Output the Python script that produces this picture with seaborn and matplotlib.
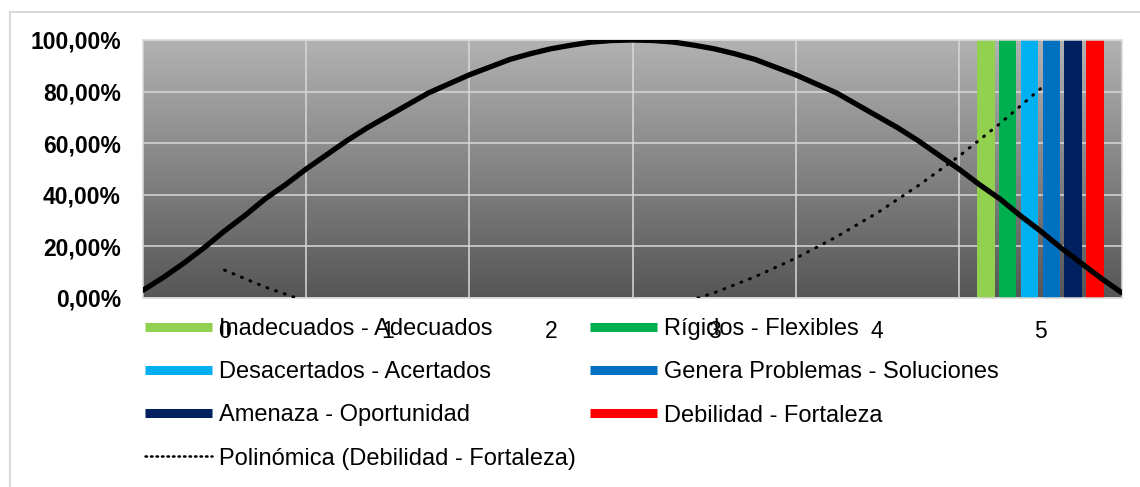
import numpy as np
import pandas as pd
import matplotlib
matplotlib.use("Agg")
import matplotlib.pyplot as plt
from matplotlib.lines import Line2D
from matplotlib.ticker import FixedLocator, FuncFormatter
from matplotlib.colors import LinearSegmentedColormap
import seaborn as sns

# ---------------- data ----------------
categories = ["0", "1", "2", "3", "4", "5"]
series = ["Inadecuados - Adecuados", "Rígidos - Flexibles", "Desacertados - Acertados",
          "Genera Problemas - Soluciones", "Amenaza - Oportunidad", "Debilidad - Fortaleza"]
series_colors = ["#92D050", "#00B050", "#00B0F0", "#0070C0", "#002060", "#FF0000"]
# each series: values per category (percent)
inadecuados = [0, 0, 0, 0, 0, 100]
rigidos = [0, 0, 0, 0, 0, 100]
desacertados = [0, 0, 0, 0, 0, 100]
genera = [0, 0, 0, 0, 0, 100]
amenaza = [0, 0, 0, 0, 0, 100]
debilidad = [0, 0, 0, 0, 0, 100]

# black arch curve
curve_x = [-0.5, -0.375, -0.25, -0.125, 0, 0.125, 0.25, 0.375, 0.5, 0.625, 0.75, 0.875,
           1, 1.125, 1.25, 1.375, 1.5, 1.625, 1.75, 1.875, 2, 2.125, 2.25, 2.375, 2.5,
           2.625, 2.75, 2.875, 3, 3.125, 3.25, 3.375, 3.5, 3.625, 3.75, 3.875,
           4, 4.125, 4.25, 4.375, 4.5, 4.625, 4.75, 4.875, 5, 5.125, 5.25, 5.375, 5.5]
curve_y = [3, 8, 13.5, 19.5, 26, 32, 38.5, 44, 50, 55.5, 61, 66,
           70.5, 75, 79.5, 83, 86.5, 89.5, 92.5, 94.7, 96.6, 98, 99.2, 99.8, 100,
           99.8, 99.2, 98, 96.6, 94.7, 92.5, 89.5, 86.5, 83, 79.5, 75,
           70.5, 66, 61, 55.5, 50, 44, 38.5, 32, 26, 19.5, 13.5, 7.5, 2]

# polynomial trendline of "Debilidad - Fortaleza"
trend_x = [0, 0.25, 0.5, 0.75, 1, 1.25, 1.5, 1.75, 2, 2.25, 2.5, 2.75, 3,
           3.25, 3.5, 3.75, 4, 4.25, 4.5, 4.75, 5]
trend_y = [10.8, 4.2, -1.3, -5.7, -9.1, -11.4, -12.7, -12.9, -12.0, -10.1, -7.1, -3.1, 2.0,
           8.2, 15.4, 23.7, 33.0, 43.5, 54.9, 67.5, 81.1]
trend_label = "Polinómica (Debilidad - Fortaleza)"

yticks = [0, 20, 40, 60, 80, 100]

# ---------------- figure ----------------
sns.set_theme(style="white")
plt.rcParams["font.family"] = ["Liberation Sans", "DejaVu Sans"]

W, H = 1140, 487
fig = plt.figure(figsize=(W / 100, H / 100), dpi=100)
L, R, T, B = 143, 1122, 40, 298
ax = fig.add_axes([L / W, 1 - B / H, (R - L) / W, (B - T) / H])

values = [inadecuados, rigidos, desacertados, genera, amenaza, debilidad]
df = pd.DataFrame([(c, s, v) for s, vals in zip(series, values) for c, v in zip(categories, vals)],
                  columns=["cat", "serie", "valor"])

# gradient background
grad = np.linspace(0, 1, 256).reshape(-1, 1)
cmap = LinearSegmentedColormap.from_list("g", ["#565656", "#b2b2b2"])
ax.imshow(grad, cmap=cmap, origin="lower", aspect="auto",
          extent=[-0.5, 5.5, 0, 100], zorder=0)

sns.barplot(data=df, x="cat", y="valor", hue="serie", order=categories, hue_order=series,
            palette=series_colors, width=0.8, gap=0.2, linewidth=0, saturation=1,
            legend=False, ax=ax, zorder=2)

ax.plot(curve_x, curve_y, color="black", lw=3.8, solid_capstyle="round",
        solid_joinstyle="round", zorder=4)
ax.plot(trend_x, trend_y, color="black", lw=2.2, linestyle=(0, (0.3, 2.7)),
        dash_capstyle="round", zorder=5)

ax.set_xlim(-0.5, 5.5)
ax.set_ylim(0, 100)
ax.set_yticks(yticks)
ax.yaxis.set_major_formatter(FuncFormatter(lambda v, p: f"{v:.2f}".replace(".", ",") + "%"))
ax.xaxis.set_minor_locator(FixedLocator([0.5, 1.5, 2.5, 3.5, 4.5]))
ax.grid(False)
ax.grid(which="major", axis="y", color="#d9d9d9", lw=1.1, zorder=1)
ax.grid(which="minor", axis="x", color="#d9d9d9", lw=1.1, zorder=1)
ax.set_axisbelow(True)
ax.tick_params(which="both", length=0)
ax.tick_params(axis="y", pad=16, labelsize=16.5)
ax.tick_params(axis="x", pad=16, labelsize=16.5)
for t in ax.get_yticklabels():
    t.set_fontweight("bold")
    t.set_color("black")
for t in ax.get_xticklabels():
    t.set_color("black")
ax.set_xlabel("")
ax.set_ylabel("")
for s in ax.spines.values():
    s.set_color("#d9d9d9")
    s.set_linewidth(1.1)

# legends
def bar_handle(c):
    return Line2D([0], [0], color=c, lw=6.5, solid_capstyle="butt")

col1 = [(bar_handle(series_colors[0]), series[0]),
        (bar_handle(series_colors[2]), series[2]),
        (bar_handle(series_colors[4]), series[4]),
        (Line2D([0], [0], color="black", lw=1.8, linestyle=(0, (0.6, 1.6)),
                dash_capstyle="round"), trend_label)]
col2 = [(bar_handle(series_colors[1]), series[1]),
        (bar_handle(series_colors[3]), series[3]),
        (bar_handle(series_colors[5]), series[5])]

for items, x0 in [(col1, 145), (col2, 590)]:
    lg = fig.legend([h for h, _ in items], [l for _, l in items], loc="upper left",
                    bbox_to_anchor=(x0 / W, 1 - 318 / H), frameon=False, fontsize=17,
                    borderaxespad=0, borderpad=0, handlelength=2.85, handletextpad=0.27,
                    labelspacing=0.9)
    for t in lg.get_texts():
        t.set_color("black")

# chart border (left and top visible)
fig.add_artist(Line2D([10 / W, 10 / W], [0, 1 - 12 / H], transform=fig.transFigure,
                      color="#d9d9d9", lw=1.5))
fig.add_artist(Line2D([10 / W, 1], [1 - 12 / H, 1 - 12 / H], transform=fig.transFigure,
                      color="#d9d9d9", lw=1.5))

fig.savefig("out.png", dpi=100)
